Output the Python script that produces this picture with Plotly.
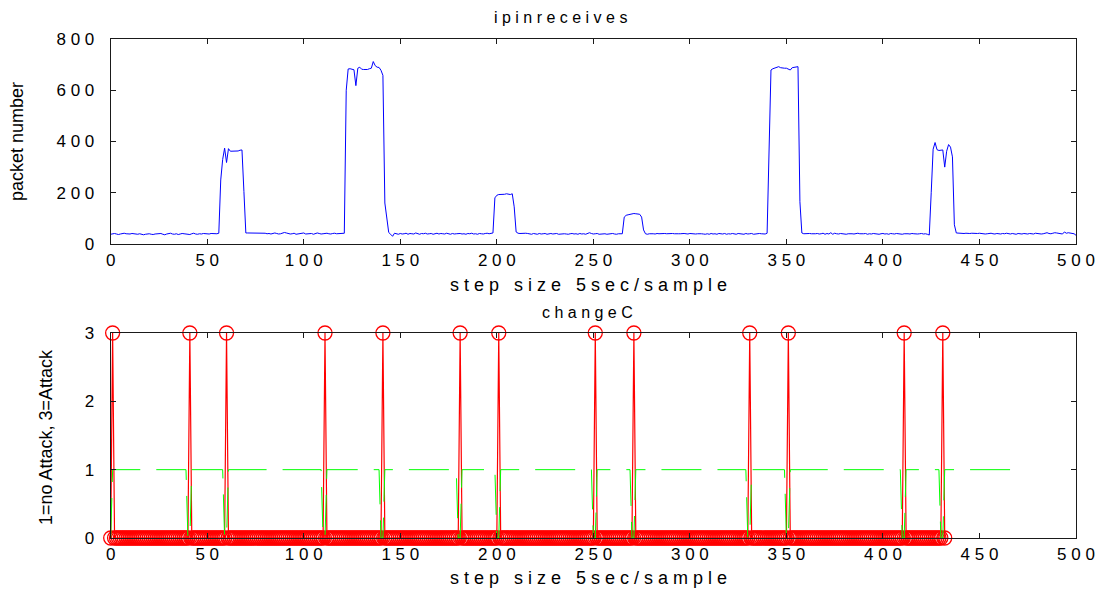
import plotly.graph_objects as go

# ---- ipinreceives: packets received per 5 s sample ----
base_0 = [38, 40, 41, 39, 37, 39, 40, 42, 40, 38,
          39, 41, 40, 37, 38, 40, 39, 36, 38, 39,
          40, 38, 37, 39, 40, 39, 41, 38, 36, 39,
          40, 42, 39, 38, 40, 37, 39, 41, 40, 38,
          39, 37, 40, 42, 39, 38, 40, 39, 41, 40,
          38, 39, 41, 40, 39, 40, 42]
burst_1 = [250, 330, 374, 318, 372, 362, 362, 361, 362, 363, 366, 367, 205]
base_1 = [43, 43, 43, 42, 43, 42, 41, 42, 43, 43,
          42, 40, 41, 39, 41, 43, 41, 39, 40, 42,
          45, 43, 40, 39, 40, 42, 38, 39, 41, 40,
          43, 39, 40, 42, 41, 38, 40, 43, 41, 39,
          40, 41, 42, 40, 39, 41, 42, 40, 41, 40,
          41, 42]
burst_2 = [600, 683, 684, 682, 680, 618, 686, 690, 682, 681, 680,
           681, 684, 686, 712, 696, 690, 689, 678, 658, 160, 105]
base_2 = [45, 38, 30, 42, 40, 38, 41, 39, 40, 42,
          38, 41, 40, 39, 43, 40, 38, 41, 40, 42,
          39, 40, 41, 38, 40, 42, 39, 41, 40, 39,
          42, 40, 38, 41, 39, 40, 42, 41, 39, 40,
          38, 41, 40, 42, 39, 40, 38, 41, 40, 39,
          41, 42, 40, 41, 43]
burst_3 = [180, 190, 193, 193, 192, 194, 196, 194, 193, 196, 145]
base_3 = [47, 42, 41, 42, 41, 42, 41, 40, 38, 41,
          40, 38, 41, 39, 40, 41, 38, 40, 41, 39,
          40, 41, 38, 39, 41, 40, 39, 38, 40, 41,
          39, 40, 38, 41, 39, 40, 38, 40, 44, 41,
          39, 40, 41, 38, 39, 41, 40, 38, 39, 40,
          41, 39, 38, 40, 41, 40]
burst_4 = [105, 112, 114, 116, 118, 119, 118, 117, 116, 105, 55]
base_4 = [40, 38, 40, 41, 40, 39, 41, 40, 41, 40,
          41, 40, 41, 40, 41, 40, 41, 40, 40, 41,
          41, 40, 39, 41, 40, 38, 39, 40, 41, 40,
          39, 38, 40, 38, 41, 39, 40, 38, 41, 40,
          39, 41, 38, 40, 39, 41, 40, 38, 41, 40,
          39, 38, 41, 39, 40, 41, 38, 40, 39, 41,
          40, 38, 39, 42]
burst_5 = [360, 679, 684, 686, 690, 692, 688, 686, 686, 686,
           683, 679, 688, 690, 690, 692, 165]
base_5 = [43, 40, 41, 42, 41, 40, 39, 40, 41, 39,
          40, 42, 38, 41, 39, 44, 38, 42, 40, 39,
          41, 40, 39, 38, 40, 41, 40, 39, 41, 42,
          40, 39, 40, 41, 38, 40, 39, 41, 40, 39,
          38, 40, 41, 39, 40, 38, 41, 40, 39, 41,
          40, 39, 38, 40, 41, 40, 39, 41, 40, 38,
          39, 40, 41, 39, 40, 38, 35]
burst_6 = [200, 370, 396, 368, 365, 366, 367, 300, 362, 388, 378, 340, 75]
base_6 = [43, 42, 41, 42, 41, 42, 40, 41, 42, 41,
          40, 41, 42, 40, 41, 39, 40, 41, 42, 40,
          39, 41, 40, 39, 41, 40, 42, 40, 39, 41,
          40, 38, 41, 40, 39, 41, 40, 39, 41, 40,
          39, 42, 40, 41, 39, 40, 42, 44, 41, 40,
          42, 44, 43, 41, 40, 39, 47, 42, 44, 43,
          41, 40, 34]

ipinreceives = (base_0 + burst_1 + base_1 + burst_2 + base_2 + burst_3 + base_3
                + burst_4 + base_4 + burst_5 + base_5 + burst_6 + base_6)
steps_top = list(range(len(ipinreceives)))

# ---- changeC: detector output ----
n_change = 433                 # samples 0..432
attack_steps = [1, 41, 60, 111, 141, 181, 201, 251, 271, 331, 351, 411, 431]
attack_level = 3
n_flag = 471                   # samples 0..470
flag_zero_steps = [0, 40, 41, 59, 60, 110, 111, 140, 141, 180, 181, 200, 201,
                   250, 251, 270, 271, 330, 331, 350, 351, 410, 411, 430, 431]
flag_level = 1

steps_change = list(range(n_change))
change_c = [attack_level if s in attack_steps else 0 for s in steps_change]
steps_flag = list(range(n_flag))
flag = [0 if s in flag_zero_steps else flag_level for s in steps_flag]

# ---- tick labels ----
x_ticks = [0, 50, 100, 150, 200, 250, 300, 350, 400, 450, 500]
x_tick_text = ["0", "5 0", "1 0 0", "1 5 0", "2 0 0", "2 5 0", "3 0 0",
               "3 5 0", "4 0 0", "4 5 0", "5 0 0"]
y1_ticks = [0, 200, 400, 600, 800]
y1_tick_text = ["0", "2 0 0", "4 0 0", "6 0 0", "8 0 0"]
y2_ticks = [0, 1, 2, 3]
y2_tick_text = ["0", "1", "2", "3"]

FONT = "Liberation Sans, Arial, sans-serif"
W, H = 1105, 591
X0, X1 = 110.7, 1076.0          # plot area left/right (px)
TOP_Y = (39.0, 244.0)           # top axes top/bottom (px)
BOT_Y = (333.0, 538.0)          # bottom axes top/bottom (px)


def px(x):
    return x / W


def py(y):
    return 1 - y / H


fig = go.Figure()

fig.add_trace(go.Scatter(
    x=steps_top, y=ipinreceives, mode="lines",
    line=dict(color="#0000ff", width=1), xaxis="x", yaxis="y",
    showlegend=False))

fig.add_trace(go.Scatter(
    x=steps_change, y=change_c, mode="lines+markers",
    line=dict(color="#ff0000", width=1.2),
    marker=dict(symbol="circle-open", size=14, color="#ff0000",
                line=dict(color="#ff0000", width=1.3)),
    cliponaxis=False, xaxis="x2", yaxis="y2", showlegend=False))

fig.add_trace(go.Scatter(
    x=steps_flag, y=flag, mode="lines",
    line=dict(color="#00ff00", width=1, dash="40px,16px"),
    cliponaxis=False, xaxis="x2", yaxis="y2", showlegend=False))

tickfont = dict(family=FONT, size=17, color="black")
axis_common = dict(showline=True, linecolor="#1a1a1a", linewidth=1,
                   mirror="ticks", ticks="inside", ticklen=5,
                   tickcolor="#1a1a1a", showgrid=False, zeroline=False,
                   tickfont=tickfont, automargin=False)

fig.update_layout(
    width=W, height=H,
    margin=dict(l=0, r=0, t=0, b=0, autoexpand=False),
    paper_bgcolor="white", plot_bgcolor="white",
    xaxis=dict(domain=[px(X0), px(X1)], range=[0, 500], anchor="y",
               tickvals=x_ticks, ticktext=x_tick_text,
               ticklabelstandoff=1, **axis_common),
    yaxis=dict(domain=[py(TOP_Y[1]), py(TOP_Y[0])], range=[0, 800],
               anchor="x", tickvals=y1_ticks, ticktext=y1_tick_text,
               ticklabelstandoff=12, **axis_common),
    xaxis2=dict(domain=[px(X0), px(X1)], range=[0, 500], anchor="y2",
                tickvals=x_ticks, ticktext=x_tick_text,
                ticklabelstandoff=1, **axis_common),
    yaxis2=dict(domain=[py(BOT_Y[1]), py(BOT_Y[0])], range=[0, 3],
                anchor="x2", tickvals=y2_ticks, ticktext=y2_tick_text,
                ticklabelstandoff=12, **axis_common),
)

NB = "\u00a0"
label_font = dict(family=FONT, size=18, color="black")
title_font = dict(family=FONT, size=16, color="black")
texts = [
    ("i p i n r e c e i v e s", 560, 18, 0, title_font),
    ("s t e p" + NB * 3 + "s i z e" + NB * 3 + "5 s e c / s a m p l e", 588, 285, 0, label_font),
    ("c h a n g e C", 587, 312, 0, title_font),
    ("s t e p" + NB * 3 + "s i z e" + NB * 3 + "5 s e c / s a m p l e", 588, 578, 0, label_font),
    ("packet number", 17, 142, -90, label_font),
    ("1=no Attack, 3=Attack", 46, 437, -90, label_font),
]
for txt, cx, cy, ang, fnt in texts:
    fig.add_annotation(text=txt, x=px(cx), y=py(cy), xref="paper", yref="paper",
                       xanchor="center", yanchor="middle", showarrow=False,
                       textangle=ang, font=fnt)

fig.write_html("out.html")
